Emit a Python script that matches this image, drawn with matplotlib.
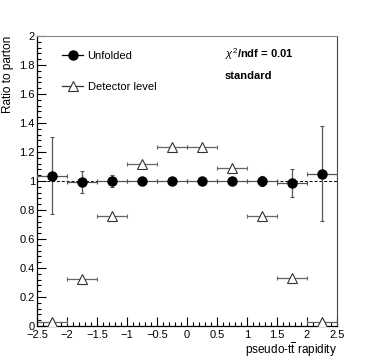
import matplotlib
matplotlib.use('Agg')
import matplotlib.pyplot as plt
from matplotlib.lines import Line2D
from matplotlib.ticker import MultipleLocator
import numpy as np

plt.rcParams['font.family'] = ['Liberation Sans', 'DejaVu Sans']
plt.rcParams['mathtext.fontset'] = 'custom'
plt.rcParams['mathtext.rm'] = 'Liberation Sans'
plt.rcParams['mathtext.it'] = 'Liberation Sans:italic'
plt.rcParams['mathtext.bf'] = 'Liberation Sans:bold'

# bins of pseudo-tt rapidity
bin_edges = [-2.5, -2.0, -1.5, -1.0, -0.5, 0.0, 0.5, 1.0, 1.5, 2.0, 2.5]

# unfolded / parton ratio and its uncertainty
unfolded = [1.037, 0.993, 1.000, 1.000, 1.000, 1.000, 1.000, 1.000, 0.984, 1.050]
unfolded_err = [0.268, 0.078, 0.040, 0.015, 0.010, 0.010, 0.012, 0.033, 0.096, 0.327]

# detector level / parton ratio
detector = [0.030, 0.327, 0.756, 1.117, 1.232, 1.235, 1.090, 0.759, 0.329, 0.025]
detector_err = [0.010, 0.005, 0.005, 0.005, 0.005, 0.005, 0.005, 0.005, 0.005, 0.010]

edges = np.array(bin_edges)
centers = 0.5 * (edges[:-1] + edges[1:])
half_w = 0.5 * np.diff(edges)

fig = plt.figure(figsize=(3.74, 3.63), dpi=100)
ax = fig.add_axes([37 / 374, 37 / 363, 300 / 374, 290 / 363])

ax.axhline(1.0, color='black', lw=0.7, ls=(0, (3, 2)), zorder=1)

ax.errorbar(centers, detector, xerr=half_w, yerr=detector_err, fmt='none',
            ecolor='#666666', elinewidth=0.9, capsize=1.5, capthick=0.8, zorder=2)
ax.plot(centers, detector, ls='none', marker='^', ms=7, mfc='white',
        mec='#333333', mew=0.8, zorder=3)

ax.errorbar(centers, unfolded, xerr=half_w, yerr=unfolded_err, fmt='none',
            ecolor='#555555', elinewidth=0.9, capsize=1.2, capthick=0.8, zorder=4)
ax.plot(centers, unfolded, ls='none', marker='o', ms=6.5, color='black', zorder=5)

ax.set_xlim(-2.5, 2.5)
ax.set_ylim(0, 2)
ax.xaxis.set_major_locator(MultipleLocator(0.5))
ax.xaxis.set_minor_locator(MultipleLocator(0.1))
ax.yaxis.set_major_locator(MultipleLocator(0.2))
ax.yaxis.set_minor_locator(MultipleLocator(0.04))
ax.xaxis.set_major_formatter(plt.FuncFormatter(lambda v, p: f'{v:g}'.replace('-', '\u2212')))
ax.yaxis.set_major_formatter(plt.FuncFormatter(lambda v, p: f'{v:g}'))
ax.tick_params(which='both', direction='in', top=False, right=False, labelsize=8, width=0.8)
ax.tick_params(which='major', length=6.5)
ax.tick_params(which='minor', length=3.2)
ax.tick_params(axis='x', pad=3)
ax.tick_params(axis='y', pad=1.5)

for side in ['left', 'bottom']:
    ax.spines[side].set_color('black')
    ax.spines[side].set_linewidth(0.9)
ax.spines['top'].set_color('#888888')
ax.spines['right'].set_color('#444444')

ax.set_ylabel('Ratio to parton', fontsize=8.5, loc='top')
ax.yaxis.set_label_coords(-0.075, 1.0)
ax.set_xlabel(r'pseudo-t$\overline{\mathrm{t}}$ rapidity', fontsize=8.5, loc='right')
ax.xaxis.set_label_coords(1.0, -0.05)

handles = [
    Line2D([], [], color='black', lw=0.9, marker='o', ms=6.5),
    Line2D([], [], color='#333333', lw=0.9, marker='^', ms=7, mfc='white', mew=0.8),
]
ax.legend(handles, ['Unfolded', 'Detector level'], loc='upper left',
          bbox_to_anchor=(0.065, 0.968), frameon=False, fontsize=8,
          handlelength=1.9, handletextpad=0.4, labelspacing=1.9, borderpad=0)

ax.text(0.626, 0.938, r'$\chi^{2}$/ndf = 0.01', transform=ax.transAxes,
        fontsize=8, fontweight='bold', va='center', ha='left')
ax.text(0.626, 0.862, 'standard', transform=ax.transAxes,
        fontsize=8, fontweight='bold', va='center', ha='left')

fig.savefig('out.png', dpi=100, facecolor='white')
